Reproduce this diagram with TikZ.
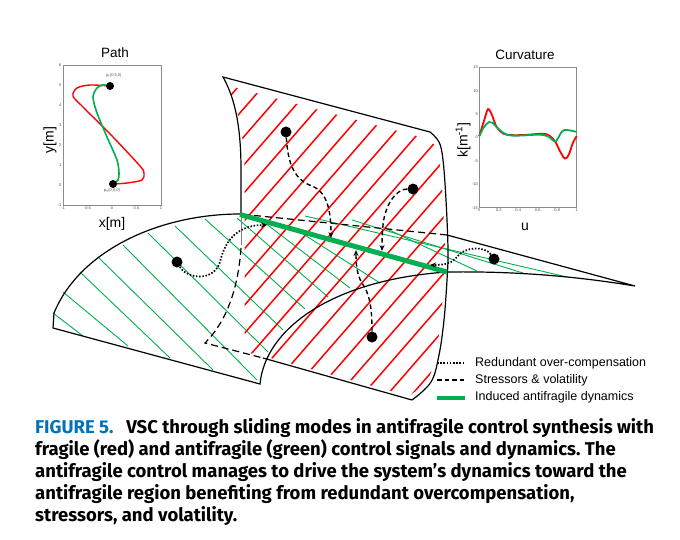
\documentclass[tikz,border=0pt]{standalone}
\usepackage{fontspec}
\setmainfont{Liberation Sans}
\newfontfamily\capfont{Fira Sans}
\usetikzlibrary{arrows.meta}
\definecolor{agreen}{RGB}{0,176,80}
\definecolor{fred}{RGB}{255,0,0}
\definecolor{capblue}{RGB}{0,114,188}
\frenchspacing
\begin{document}
\begin{tikzpicture}[x=1pt,y=-1pt,
  outline/.style={line width=1.2pt,black},
  ghatch/.style={agreen,line width=0.9pt},
  rhatch/.style={fred,line width=1.5pt},
  hidden/.style={line width=1.2pt,dash pattern=on 7pt off 4pt},
  stress/.style={line width=1.4pt,dash pattern=on 4.5pt off 3pt},
  redund/.style={line width=1.7pt,dash pattern=on 1.5pt off 1.7pt},
  tipArrow/.style={-{Stealth[length=6pt,width=5pt]}},
  bigdot/.style={circle,fill=black,inner sep=0pt,minimum size=11pt},
  smalldot/.style={circle,fill=black,inner sep=0pt,minimum size=8pt},
  ticklab/.style={font=\fontsize{4}{4}\selectfont,inner sep=0.5pt,text=black!70},
  axframe/.style={draw=black!45,line width=0.5pt},
  lbl/.style={font=\fontsize{14}{14}\selectfont,inner sep=0pt},
  legtext/.style={font=\fontsize{12.5}{14}\selectfont,anchor=west,inner sep=0pt},
  capline/.style={font=\capfont\bfseries\fontsize{18.5}{20}\selectfont,anchor=base west,inner sep=0pt}
]
\useasboundingbox (0,0) rectangle (680,539);
\fill[white] (0,0) rectangle (680,539);

% ---------- green hatch ----------
\foreach \a/\b/\c/\d in {
  53/313/83/336, 63/292/128/346, 80/272/170/358, 98/257/213/370,
  123/245/257/380, 148/233/268/352, 175/226/283/330, 205/219/305/309,
  237/218/328/297, 265/223/350/288, 300/232/380/283,
  305/216/567/277, 352/220/523/273, 387/229/477/271}
  \draw[ghatch] (\a,\b) -- (\c,\d);

% ---------- red hatch ----------
\begin{scope}
\clip (226,85) .. controls (237,104) and (244,132) .. (244.5,170) -- (244.5,352) -- (263,356) -- (409,396) -- (428,382) -- (436,356) -- (441,320) -- (444,280) -- (445,250) -- (443,200) -- (440,162) -- (436,146) -- (428,139) -- cycle;
\foreach \c in {332.5,360.7,...,900} \draw[rhatch] (200,\c-230) -- (470,\c-540.5);
\end{scope}

% ---------- red sheet outline ----------
\draw[outline] (430,132) -- (223,77) .. controls (236,100) and (241,130) .. (241,170) -- (241,215);
\draw[outline] plot[smooth,tension=0.6] coordinates {(430,132) (439,142) (443,160) (446,200) (448,250) (447,280) (444,320) (439,355) (431,382) (412,400)};
\draw[outline] (412,400) -- (263,358);
\draw[line width=0.6pt,black!50] (241,215) -- (241,245);
\draw[hidden] (241,248) .. controls (238,290) and (226,322) .. (205,343) -- (263,358);

% ---------- green surface outline ----------
\draw[outline] (240,214) .. controls (160,214) and (80,250) .. (54,313) -- (53,328) -- (260,384)
  .. controls (265,330) and (330,280) .. (447,272) .. controls (520,271) and (580,277) .. (635,286) -- (447,235);
\draw[hidden] (447,235) -- (240,214);

% ---------- induced antifragile dynamics ----------
\coordinate (gA) at (240,214.5);
\coordinate (gB) at (447,272);
\draw[agreen,line width=5pt] (gA) -- (gB);

% ---------- dots ----------
\node[bigdot] (D1) at (286,132) {};
\node[bigdot] (D2) at (413,189) {};
\node[bigdot] (D3) at (372,337) {};
\node[bigdot] (D4) at (177,262) {};
\node[bigdot] (D5) at (494,259) {};

\coordinate (a1) at (331,238);
\coordinate (a2) at (382,251);
\coordinate (a3) at (356,250);
\coordinate (a4) at (267,225);
\coordinate (a5) at (430,265);

% stressors & volatility
\draw[stress,tipArrow] (D1) .. controls (288,165) and (295,180) .. (312,186) .. controls (327,192) and (331,210) .. (a1);
\draw[stress,tipArrow] (D2) .. controls (396,189) and (385,205) .. (383,225) .. controls (382,235) and (382,243) .. (a2);
\draw[stress,tipArrow] (D3) .. controls (372,305) and (369,293) .. (362,283) .. controls (357,275) and (356,265) .. (a3);
% redundant over-compensation
\draw[redund,tipArrow] (D4) .. controls (186,278) and (213,283) .. (220,262) .. controls (225,240) and (238,225) .. (a4);
\draw[redund,tipArrow] (D5) .. controls (485,246) and (464,246) .. (456,258) .. controls (452,263) and (445,265) .. (a5);

% ---------- legend ----------
\coordinate (l1a) at (437,363); \coordinate (l1b) at (465,363);
\coordinate (l2a) at (437,380); \coordinate (l2b) at (465,380);
\coordinate (l3a) at (437,398); \coordinate (l3b) at (465,398);
\draw[redund] (l1a) -- (l1b);
\draw[stress] (l2a) -- (l2b);
\draw[agreen,line width=4pt] (l3a) -- (l3b);
\node[legtext] (t1) at (475,363) {Redundant over-compensation};
\node[legtext] (t2) at (475,380) {Stressors \& volatility};
\node[legtext] (t3) at (475,397.5) {Induced antifragile dynamics};

% ---------- Path inset ----------
\node[lbl,font=\fontsize{13.5}{14}\selectfont] (ptitle) at (115,53) {Path};
\draw[axframe] (63,65) rectangle (161,205);
\foreach \v in {6,5,4,3,2,1,0,-1} \node[ticklab,anchor=east] at (62,{65+20*(6-\v)}) {\v};
\foreach \v/\xx in {-1/63,-0.5/87.5,0/112,0.5/136.5,1/161} \node[ticklab,anchor=north] at (\xx,206) {\v};
\node[lbl,rotate=90] (ylab) at (50,140) {y[m]};
\node[lbl] (xlab) at (112,224) {x[m]};
\draw[fred,line width=1.4pt] plot[smooth] coordinates {(113,184) (127,183) (142,180) (144,173) (140,166) (113,137) (83,107) (73,96) (77,88) (90,85) (110,86)};
\draw[agreen,line width=1.6pt] plot[smooth] coordinates {(113,184) (118,180) (119,173) (117,160) (107,137) (97,113) (93,97) (97,88) (103,85) (110,86)};
\node[smalldot] (pf) at (110,86) {};
\node[smalldot] (p0) at (113,184) {};
\node[ticklab] (pflab) at (114,76) {p\textsubscript{f}(0,5,0)};
\node[ticklab] (p0lab) at (112,191) {p\textsubscript{0}(0,0,0)};

% ---------- Curvature inset ----------
\node[lbl,font=\fontsize{13.5}{14}\selectfont] (ctitle) at (525,55) {Curvature};
\draw[axframe] (479.3,67.3) rectangle (576.7,207.7);
\foreach \v in {15,10,5,0,-5,-10,-15} \node[ticklab,anchor=east] at (478.5,{137.5-4.68*\v}) {\v};
\foreach \v in {0,0.2,0.4,0.6,0.8,1} \node[ticklab,anchor=north] at ({479.3+97.4*\v},208.5) {\v};
\node[lbl,rotate=90] (klab) at (463,140) {k[m\textsuperscript{-1}]};
\node[lbl] (ulab) at (525,227) {u};
\begin{scope}[shift={(479.3,137.5)},xscale=97.4,yscale=-4.68]
\draw[fred,line width=1.8pt] plot[smooth,tension=0.6] coordinates {(0,0.3) (0.04,3) (0.08,5.7) (0.1,6) (0.13,4.8) (0.18,2.2) (0.25,0.8) (0.35,0.5) (0.5,0.6) (0.65,0.8) (0.72,0.4) (0.78,-0.9) (0.83,-3) (0.88,-4.5) (0.92,-3.6) (0.96,-1.2) (1.0,0.3)};
\draw[agreen,line width=1.8pt] plot[smooth,tension=0.6] coordinates {(0,0.3) (0.05,2.3) (0.1,3.3) (0.13,3.2) (0.2,1.8) (0.28,0.6) (0.4,0.4) (0.6,0.6) (0.7,0.3) (0.77,-0.8) (0.8,-0.4) (0.85,1.3) (0.9,1.6) (1.0,1.2)};
\end{scope}

% ---------- caption ----------
\node[capline] (c1) at (35,433.5) {\textcolor{capblue}{FIGURE 5.}\hspace{0.7em}VSC through sliding modes in antifragile control synthesis with};
\node[capline] (c2) at (35,455.5) {fragile (red) and antifragile (green) control signals and dynamics. The};
\node[capline] (c3) at (35,477.3) {antifragile control manages to drive the system’s dynamics toward the};
\node[capline] (c4) at (35,499.2) {antifragile region benefiting from redundant overcompensation,};
\node[capline] (c5) at (35,521) {stressors, and volatility.};
\end{tikzpicture}
\end{document}
